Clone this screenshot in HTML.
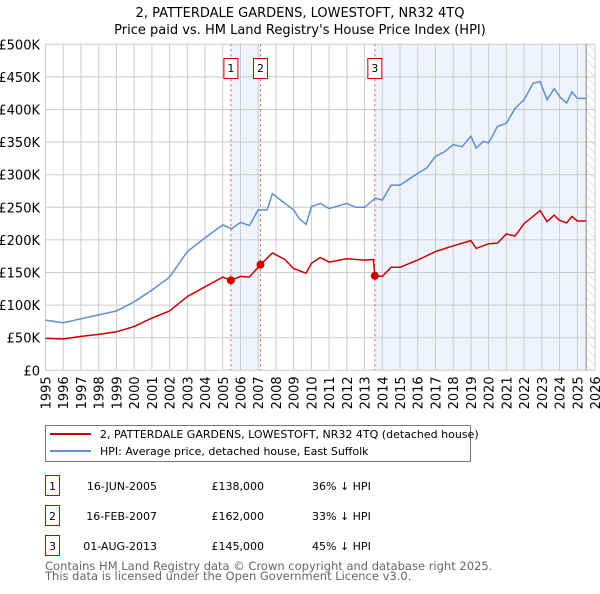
<!DOCTYPE html>
<html><head><meta charset="utf-8"><style>
body{margin:0;background:#fff;font-family:"DejaVu Sans","Liberation Sans",sans-serif;}
svg text{font-family:"DejaVu Sans","Liberation Sans",sans-serif;}
</style></head><body>
<svg id="chart" width="600" height="590" xmlns="http://www.w3.org/2000/svg">
<defs><pattern id="hatch" width="6" height="6" patternUnits="userSpaceOnUse" patternTransform="rotate(-45)"><line x1="0" y1="0" x2="0" y2="6" stroke="#ccc" stroke-width="1"/></pattern></defs>
<text x="300" y="17" text-anchor="middle" font-size="13">2, PATTERDALE GARDENS, LOWESTOFT, NR32 4TQ</text>
<text x="300" y="34" text-anchor="middle" font-size="13">Price paid vs. HM Land Registry's House Price Index (HPI)</text>
<g id="plot"></g>
<rect x="45.5" y="425.5" width="425" height="36" fill="#fff" stroke="#777"/>
<line x1="50" y1="434" x2="91" y2="434" stroke="#cc0000" stroke-width="2"/>
<text x="100" y="438" font-size="11">2, PATTERDALE GARDENS, LOWESTOFT, NR32 4TQ (detached house)</text>
<line x1="50" y1="451" x2="91" y2="451" stroke="#5b8fd6" stroke-width="2"/>
<text x="100" y="455" font-size="11">HPI: Average price, detached house, East Suffolk</text>
<g font-size="11">
<rect x="45.5" y="475.5" width="14" height="20" fill="#fff" stroke="#cc0000"/><text x="52.5" y="490" text-anchor="middle">1</text>
<text x="157" y="490" text-anchor="end">16-JUN-2005</text><text x="264" y="490" text-anchor="end">£138,000</text><text x="312" y="490">36% ↓ HPI</text>
<rect x="45.5" y="505.5" width="14" height="20" fill="#fff" stroke="#cc0000"/><text x="52.5" y="520" text-anchor="middle">2</text>
<text x="157" y="520" text-anchor="end">16-FEB-2007</text><text x="264" y="520" text-anchor="end">£162,000</text><text x="312" y="520">33% ↓ HPI</text>
<rect x="45.5" y="535.5" width="14" height="20" fill="#fff" stroke="#cc0000"/><text x="52.5" y="550" text-anchor="middle">3</text>
<text x="157" y="550" text-anchor="end">01-AUG-2013</text><text x="264" y="550" text-anchor="end">£145,000</text><text x="312" y="550">45% ↓ HPI</text>
</g>
<text x="45" y="570" font-size="11.5" fill="#666">Contains HM Land Registry data © Crown copyright and database right 2025.</text>
<text x="45" y="580" font-size="11.5" fill="#666">This data is licensed under the Open Government Licence v3.0.</text>
</svg>
<script>
const hpiYears=[1995,1996,1997,1998,1999,2000,2001,2002,2003,2004,2005,2005.5,2006,2006.5,2007,2007.5,2007.8,2008.5,2009,2009.3,2009.7,2010,2010.5,2011,2012,2012.5,2013,2013.6,2014,2014.5,2015,2016,2016.5,2017,2017.5,2018,2018.5,2019,2019.3,2019.7,2020,2020.5,2021,2021.5,2022,2022.5,2022.9,2023.3,2023.7,2024,2024.4,2024.7,2025,2025.5];
const hpiValues=[77,73,79,85,91,105,123,143,182,203,223,217,227,222,246,246,271,256,246,233,224,251,256,248,256,250,250,264,261,284,284,302,310,328,335,346,343,359,341,351,349,374,379,402,415,440,443,415,432,420,410,427,417,417];
const priceYears=[1995,1996,1997,1998,1999,2000,2001,2002,2003,2004,2005,2005.46,2006,2006.5,2007.13,2007.8,2008.5,2009,2009.7,2010,2010.5,2011,2012,2013,2013.5,2013.58,2014,2014.5,2015,2016,2017,2018,2019,2019.3,2020,2020.5,2021,2021.5,2022,2022.9,2023.3,2023.7,2024,2024.4,2024.7,2025,2025.5];
const priceValues=[49,48,52,55,59,67,80,91,113,128,143,138,144,143,162,180,170,156,149,164,173,166,171,169,170,145,144,158,158,169,182,191,199,187,194,195,209,206,225,245,228,238,230,226,236,229,229];
const saleLabels=["1","2","3"];
const saleYears=[2005.46,2007.13,2013.58];
const saleValues=[138,162,145];
const yTicks=[0,50,100,150,200,250,300,350,400,450,500];
const yTickLabels=["£0","£50K","£100K","£150K","£200K","£250K","£300K","£350K","£400K","£450K","£500K"];
const xTicks=[1995,1996,1997,1998,1999,2000,2001,2002,2003,2004,2005,2006,2007,2008,2009,2010,2011,2012,2013,2014,2015,2016,2017,2018,2019,2020,2021,2022,2023,2024,2025,2026];

const X0=45.5,X1=595,Y0=370.3,Y1=44.3;
const xs=y=>X0+(y-1995)/(2026-1995)*(X1-X0);
const ys=v=>Y0-v/500*(Y0-Y1);
const NS="http://www.w3.org/2000/svg";
const plot=document.getElementById('plot');
function mk(tag,attrs,parent){const e=document.createElementNS(NS,tag);for(const k in attrs)e.setAttribute(k,attrs[k]);(parent||plot).appendChild(e);return e;}

let r=mk('rect',{x:xs(saleYears[0]),y:Y1,width:xs(saleYears[1])-xs(saleYears[0]),height:Y0-Y1,fill:'#eef3fc'});


r=mk('rect',{x:xs(saleYears[2]),y:Y1,width:xs(2025.5)-xs(saleYears[2]),height:Y0-Y1,fill:'#eef3fc'});


r=mk('rect',{x:xs(2025.5),y:Y1,width:X1-xs(2025.5),height:Y0-Y1,fill:'url(#hatch)'});



yTicks.forEach((t,i)=>{
 const l=mk('line',{x1:X0,x2:X1,y1:ys(t),y2:ys(t),stroke:'#ccc','stroke-width':1});
 
 
 const tx=mk('text',{x:40,y:ys(t)+5,'text-anchor':'end','font-size':13});
 
 
 tx.textContent=yTickLabels[i];
});
xTicks.forEach(t=>{
 const l=mk('line',{x1:xs(t),x2:xs(t),y1:Y1,y2:Y0,stroke:'#ccc','stroke-width':1});
 
 
 const tx=mk('text',{x:0,y:0,'font-size':13,'text-anchor':'end',transform:`translate(${xs(t)+5},${Y0+6}) rotate(-90)`});
 
 
 tx.textContent=t;
});
const ed=mk('line',{x1:xs(2025.5),x2:xs(2025.5),y1:Y1,y2:Y0,stroke:'#888','stroke-width':1});



saleYears.forEach((y,i)=>{
 const l=mk('line',{x1:xs(y),x2:xs(y),y1:Y1,y2:Y0,stroke:'#e05050','stroke-width':1,'stroke-dasharray':'2,3'});
 
 
 const b=mk('rect',{x:xs(y)-7,y:58.5,width:14,height:20,fill:'#fff',stroke:'#cc0000'});
 
 
 const t=mk('text',{x:xs(y),y:72,'text-anchor':'middle','font-size':11});
 
 
 t.textContent=saleLabels[i];
});

const hp=mk('path',{d:hpiYears.map((y,i)=>(i?'L':'M')+xs(y).toFixed(1)+','+ys(hpiValues[i]).toFixed(1)).join(''),fill:'none',stroke:'#5b8fd6','stroke-width':1.5});


const pp=mk('path',{d:priceYears.map((y,i)=>(i?'L':'M')+xs(y).toFixed(1)+','+ys(priceValues[i]).toFixed(1)).join(''),fill:'none',stroke:'#cc0000','stroke-width':1.5});


saleYears.forEach((y,i)=>{
 const c=mk('circle',{cx:xs(y),cy:ys(saleValues[i]),r:4,fill:'#cc0000'});
 
 
});
</script>
</body></html>
